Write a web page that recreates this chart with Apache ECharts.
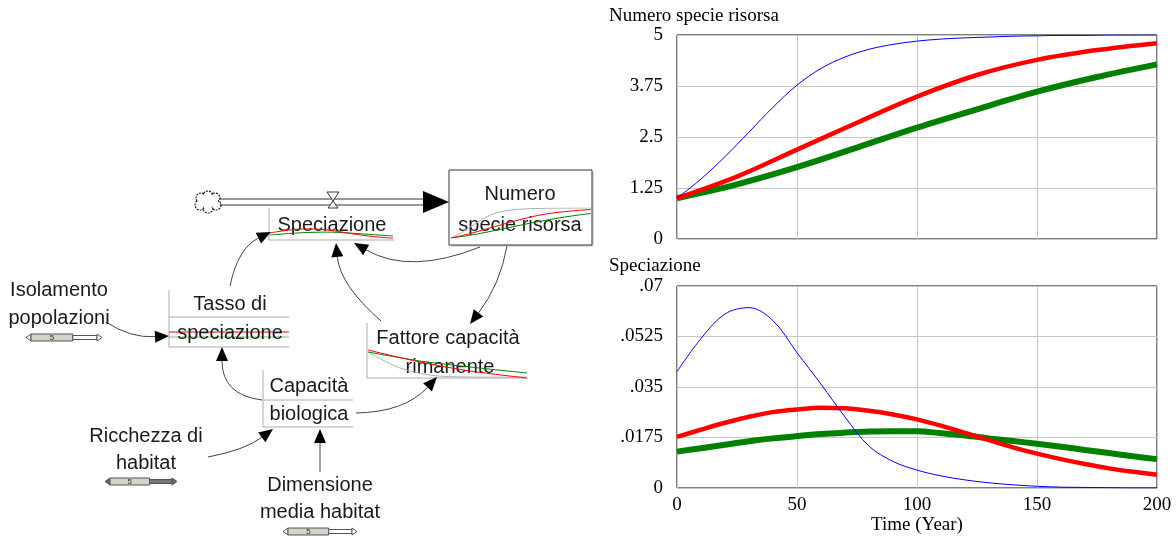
<!DOCTYPE html>
<html>
<head>
<meta charset="utf-8">
<script src="https://cdn.jsdelivr.net/npm/echarts@6/dist/echarts.min.js"></script>
<style>
  html, body { margin: 0; padding: 0; background: #fff; }
  #chart { width: 1176px; height: 539px; }
</style>
</head>
<body>
<div id="chart"></div>
<script>
// anni
var anni = [0, 10, 20, 30, 40, 50, 60, 70, 80, 90, 100, 110, 120, 130, 140, 150, 160, 170, 180, 190, 200];
var anniRV = [0, 25, 50, 75, 100, 125, 150, 175, 200];

// Numero specie risorsa
var numeroBlu = [1.0, 1.47, 2.02, 2.62, 3.23, 3.77, 4.18, 4.46, 4.65, 4.77, 4.85, 4.9, 4.93, 4.95, 4.97, 4.98, 4.99, 4.99, 5.0, 5.0, 5.0];
var numeroRosso = [1.0, 1.53, 2.19, 2.85, 3.49, 4.02, 4.39, 4.63, 4.80];
var numeroVerde = [1.0, 1.34, 1.76, 2.24, 2.73, 3.18, 3.61, 3.97, 4.28];

// Speciazione
var speciazioneBlu = [0.0403, 0.0518, 0.0603, 0.0625, 0.0580, 0.0469, 0.0360, 0.0246, 0.0145, 0.0092, 0.0062, 0.0042, 0.0028, 0.0018, 0.0011, 0.0006, 0.0003, 0.0002, 0.0001, 0, 0];
var speciazioneRosso = [0.0177, 0.0202, 0.0226, 0.0247, 0.0263, 0.0272, 0.0278, 0.0276, 0.0268, 0.0255, 0.0238, 0.0216, 0.0191, 0.0166, 0.0141, 0.0119, 0.0100, 0.0083, 0.0068, 0.0056, 0.0046];
var speciazioneVerde = [0.0126, 0.0138, 0.0150, 0.0162, 0.0172, 0.0180, 0.0187, 0.0192, 0.0196, 0.0197, 0.0197, 0.0190, 0.0182, 0.0172, 0.0163, 0.0153, 0.0143, 0.0132, 0.0121, 0.0110, 0.0100];

// etichette degli assi
var tickNumero = ['0', '1.25', '2.5', '3.75', '5'];
var tickSpeciazione = ['0', '.0175', '.035', '.0525', '.07'];
var tickTempo = ['0', '50', '100', '150', '200'];

var chart = echarts.init(document.getElementById('chart'));

function coppie(xs, valori) {
  return xs.map(function (t, i) { return [t, valori[i]]; });
}

var serif = 'Liberation Serif';
var sans = 'Liberation Sans';
var BLU = '#0000ff', ROSSO = '#ff0000', VERDE = '#008000';

// ---- diagramma stock & flow (solo disegno) ----
var diagramma = [];
var LINEA = '#444', BORDO = '#aaa';

function testo(x, y, s) {
  diagramma.push({ type: 'text', x: x, y: y, z: 10,
    style: { text: s, fill: '#1a1a1a', fontSize: 20, fontFamily: sans, align: 'center', verticalAlign: 'middle' } });
}
function linea(x1, y1, x2, y2, col, w) {
  diagramma.push({ type: 'line', z: 5, shape: { x1: x1, y1: y1, x2: x2, y2: y2 },
    style: { stroke: col || BORDO, lineWidth: w || 1 } });
}
function spezzata(punti, col) {
  diagramma.push({ type: 'polyline', z: 12, shape: { points: punti, smooth: 0.3 },
    style: { stroke: col, fill: null, lineWidth: 1 } });
}
function freccia(x1, y1, cx, cy, x2, y2) {
  var dx = x2 - cx, dy = y2 - cy, l = Math.sqrt(dx * dx + dy * dy);
  dx /= l; dy /= l;
  var L = 14, W = 6;
  var bx = x2 - dx * L, by = y2 - dy * L;
  diagramma.push({ type: 'bezierCurve', z: 5,
    shape: { x1: x1, y1: y1, cpx1: cx, cpy1: cy, x2: bx, y2: by },
    style: { stroke: LINEA, fill: null, lineWidth: 1 } });
  diagramma.push({ type: 'polygon', z: 6,
    shape: { points: [[x2, y2], [bx - dy * W, by + dx * W], [bx + dy * W, by - dx * W]] },
    style: { fill: '#000' } });
}
function cursore(x, y, w, scuro) {
  // piccolo slider "5" sotto le costanti
  diagramma.push({ type: 'polygon', z: 6, shape: { points: [[x, y + 3.5], [x + 5, y], [x + 5, y + 7]] },
    style: { fill: scuro ? '#666' : '#fff', stroke: '#555', lineWidth: 1 } });
  diagramma.push({ type: 'rect', z: 6, shape: { x: x + 5, y: y, width: w * 0.55, height: 7 },
    style: { fill: '#d6d2ca', stroke: '#555', lineWidth: 1 } });
  diagramma.push({ type: 'text', z: 7, x: x + 5 + w * 0.275, y: y + 3.8,
    style: { text: '5', fontSize: 8, fontFamily: sans, fill: '#333', align: 'center', verticalAlign: 'middle' } });
  diagramma.push({ type: 'rect', z: 6, shape: { x: x + 5 + w * 0.55, y: y + 1.5, width: w * 0.45 - 10, height: 4 },
    style: { fill: scuro ? '#777' : '#fff', stroke: '#555', lineWidth: 1 } });
  diagramma.push({ type: 'polygon', z: 6, shape: { points: [[x + w - 5, y], [x + w, y + 3.5], [x + w - 5, y + 7]] },
    style: { fill: scuro ? '#666' : '#fff', stroke: '#555', lineWidth: 1 } });
}

// nuvola (sorgente)
var bolle = [[-7, -4], [0, -6], [7, -4], [8, 3], [0, 6], [-8, 3]];
bolle.forEach(function (b) {
  diagramma.push({ type: 'circle', z: 5, shape: { cx: 208 + b[0], cy: 202 + b[1], r: 5 },
    style: { fill: null, stroke: '#222', lineWidth: 1.2, lineDash: [2, 1] } });
});
bolle.forEach(function (b) {
  diagramma.push({ type: 'circle', z: 6, shape: { cx: 208 + b[0], cy: 202 + b[1], r: 3.8 }, style: { fill: '#fff' } });
});
diagramma.push({ type: 'circle', z: 6, shape: { cx: 208, cy: 202, r: 6 }, style: { fill: '#fff' } });

// tubo del flusso
linea(219, 199, 425, 199, '#333', 1.2);
linea(219, 205, 425, 205, '#333', 1.2);
diagramma.push({ type: 'polygon', z: 6, shape: { points: [[423, 191], [449, 202], [423, 213]] }, style: { fill: '#000' } });
diagramma.push({ type: 'polygon', z: 7, shape: { points: [[327, 192], [339, 192], [333, 201]] },
  style: { fill: '#fff', stroke: '#333', lineWidth: 1 } });
diagramma.push({ type: 'polygon', z: 7, shape: { points: [[333, 201], [328, 208], [338, 208]] },
  style: { fill: '#fff', stroke: '#333', lineWidth: 1 } });

// stock: Numero specie risorsa
diagramma.push({ type: 'rect', z: 1, shape: { x: 451, y: 172, width: 143, height: 75 }, style: { fill: '#ddd' } });
diagramma.push({ type: 'rect', z: 1, shape: { x: 449, y: 170, width: 143, height: 75 },
  style: { fill: '#fff', stroke: '#333', lineWidth: 1 } });
testo(520, 194, 'Numero');
testo(520, 225, 'specie risorsa');

// variabili ausiliarie
linea(269, 208, 269, 240); linea(269, 240, 394, 240);
testo(332, 225, 'Speciazione');

linea(169, 290, 169, 347); linea(169, 317, 289, 317); linea(169, 347, 289, 347);
testo(230, 304, 'Tasso di');
testo(230, 333, 'speciazione');
linea(169, 332, 289, 332, ROSSO, 1.2);
linea(169, 337, 289, 337, '#7fbf7f', 1.2);

linea(367, 323, 367, 378); linea(367, 378, 528, 378);
testo(448, 338, 'Fattore capacità');
testo(450, 367, 'rimanente');
spezzata([[368, 352], [400, 368], [438, 376], [527, 377]], '#b0b0b0');
spezzata([[368, 352], [420, 361], [470, 367], [527, 373]], VERDE);
spezzata([[368, 350], [420, 362], [470, 371], [527, 378]], ROSSO);

linea(263, 370, 263, 427); linea(263, 400, 353, 400); linea(263, 427, 353, 427);
testo(309, 386, 'Capacità');
testo(309, 414, 'biologica');

// costanti
testo(59, 290, 'Isolamento');
testo(59, 318, 'popolazioni');
cursore(26, 334, 76, false);
testo(146, 436, 'Ricchezza di');
testo(146, 463, 'habitat');
cursore(105, 478, 72, true);
testo(320, 485, 'Dimensione');
testo(320, 512, 'media habitat');
cursore(283, 528, 74, false);

// collegamenti causali
freccia(230, 286, 238, 248, 271, 232);
freccia(480, 247, 410, 275, 354, 243);
freccia(381, 321, 340, 285, 336, 243);
freccia(507, 246, 500, 285, 470, 324);
freccia(106, 322, 130, 338, 169, 336);
freccia(262, 400, 222, 395, 222, 347);
freccia(356, 413, 405, 412, 437, 377);
freccia(208, 457, 245, 450, 273, 429);
freccia(320, 472, 320, 452, 320, 429);

// ---- assi e serie ----
var assiY = {
  axisLine: { show: false }, axisTick: { show: false },
  splitLine: { lineStyle: { color: '#c8c8c8', width: 1 } }
};

function serie(nome, xi, xs, valori, colore, spessore, z) {
  return {
    name: nome, type: 'line', xAxisIndex: xi, yAxisIndex: xi,
    data: coppie(xs, valori), showSymbol: false, smooth: 0.35, z: z || 2,
    lineStyle: { color: colore, width: spessore }, itemStyle: { color: colore }, silent: true
  };
}

var option = {
  animation: false,
  backgroundColor: '#fff',
  title: [
    { text: 'Numero specie risorsa', left: 604, top: 2, padding: 5,
      textStyle: { fontFamily: serif, fontSize: 19, fontWeight: 'normal', color: '#000' } },
    { text: 'Speciazione', left: 604, top: 252, padding: 5,
      textStyle: { fontFamily: serif, fontSize: 19, fontWeight: 'normal', color: '#000' } }
  ],
  grid: [
    { left: 677, top: 35, width: 480, height: 204, show: true, borderColor: '#000', borderWidth: 1, backgroundColor: 'transparent' },
    { left: 677, top: 286, width: 480, height: 202, show: true, borderColor: '#000', borderWidth: 1, backgroundColor: 'transparent' },
    { left: 451, top: 208, width: 140, height: 30 },
    { left: 270, top: 226, width: 123, height: 14 }
  ],
  xAxis: [
    { type: 'value', gridIndex: 0, min: 0, max: 200, interval: 50,
      axisLine: { show: false }, axisTick: { show: false }, axisLabel: { show: false },
      splitLine: { lineStyle: { color: '#c8c8c8' } } },
    { type: 'value', gridIndex: 1, min: 0, max: 200, interval: 50,
      axisLine: { show: false }, axisTick: { show: false },
      axisLabel: { fontFamily: serif, fontSize: 19, color: '#000', margin: 8,
        formatter: function (v, i) { return tickTempo[i]; } },
      splitLine: { lineStyle: { color: '#c8c8c8' } },
      name: 'Time (Year)', nameLocation: 'middle', nameGap: 28,
      nameTextStyle: { fontFamily: serif, fontSize: 19, color: '#000' } },
    { type: 'value', gridIndex: 2, min: 0, max: 200, show: false },
    { type: 'value', gridIndex: 3, min: 0, max: 200, show: false }
  ],
  yAxis: [
    Object.assign({ type: 'value', gridIndex: 0, min: 0, max: 5, interval: 1.25,
      axisLabel: { fontFamily: serif, fontSize: 19, color: '#000', margin: 14,
        formatter: function (v, i) { return tickNumero[i]; } } }, assiY),
    Object.assign({ type: 'value', gridIndex: 1, min: 0, max: 0.07, interval: 0.0175,
      axisLabel: { fontFamily: serif, fontSize: 19, color: '#000', margin: 14,
        formatter: function (v, i) { return tickSpeciazione[i]; } } }, assiY),
    { type: 'value', gridIndex: 2, min: 1, max: 5, show: false },
    { type: 'value', gridIndex: 3, min: 0, max: 0.035, show: false }
  ],
  graphic: { elements: diagramma },
  series: [
    serie('Numero verde', 0, anniRV, numeroVerde, VERDE, 6),
    serie('Numero rosso', 0, anniRV, numeroRosso, ROSSO, 4.5),
    serie('Numero blu', 0, anni, numeroBlu, BLU, 1),
    serie('Speciazione verde', 1, anni, speciazioneVerde, VERDE, 6),
    serie('Speciazione rosso', 1, anni, speciazioneRosso, ROSSO, 4.5),
    serie('Speciazione blu', 1, anni, speciazioneBlu, BLU, 1),
    // mini grafici dentro il diagramma
    serie('mini numero blu', 2, anni, numeroBlu, '#b0b0b0', 1, 12),
    serie('mini numero verde', 2, anniRV, numeroVerde, VERDE, 1, 12),
    serie('mini numero rosso', 2, anniRV, numeroRosso, ROSSO, 1, 12),
    serie('mini speciazione verde', 3, anni, speciazioneVerde, VERDE, 1, 12),
    serie('mini speciazione rosso', 3, anni, speciazioneRosso, ROSSO, 1, 12)
  ]
};

chart.setOption(option);
</script>
</body>
</html>
